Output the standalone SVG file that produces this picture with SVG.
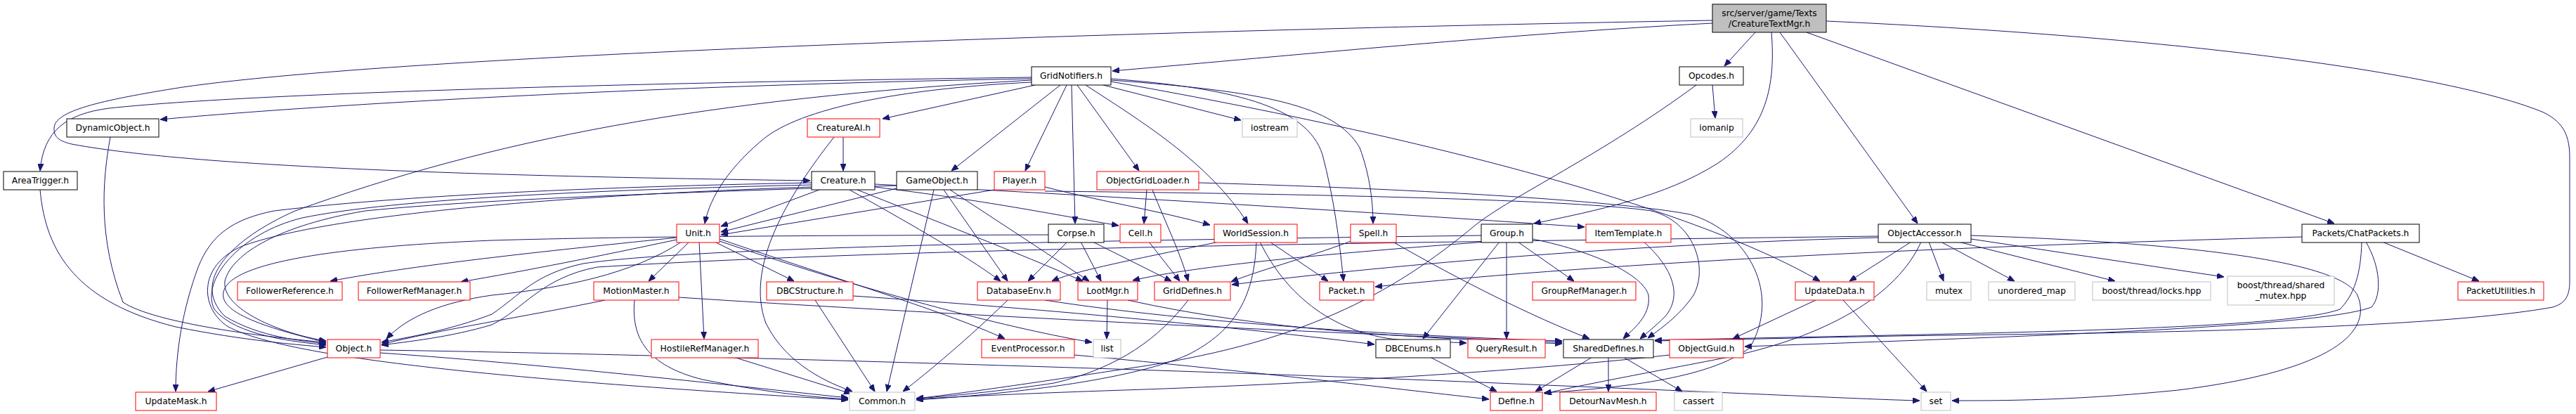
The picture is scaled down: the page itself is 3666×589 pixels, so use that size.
<svg xmlns="http://www.w3.org/2000/svg" width="3666" height="589" viewBox="0 0 3666 589">
<style>
.node rect{fill:#fff;stroke:#000;stroke-width:1}
.node.red rect{stroke:#ff0000}
.node.grey rect{stroke:#bfbfbf}
.node.root rect{fill:#bfbfbf;stroke:#000}
.node text{font-family:"DejaVu Sans","Liberation Sans",sans-serif;font-size:12.3px;fill:#000;text-anchor:middle}
#edges path{fill:none;stroke:#191970;stroke-width:1;marker-end:url(#arr)}
</style>
<defs>
<marker id="arr" markerWidth="10" markerHeight="8" refX="10" refY="4" orient="auto" markerUnits="userSpaceOnUse"><path d="M0,0 L10,4 L0,8 z" fill="#191970" stroke="#191970" stroke-width="1"/></marker>
</defs>
<rect width="3666" height="589" fill="#fff"/>
<g id="edges">
<path d="M2437,33 C2150,48 1850,78 1583,101"/>
<path d="M2437,29 C1700,42 600,75 260,124 C140,143 78,158 77,182 C76,196 86,201 102,205 C300,242 800,252 1153,257"/>
<path d="M2498,46 L2454,94"/>
<path d="M2521,46 C2527,120 2515,185 2445,232 C2370,280 2270,300 2183,318"/>
<path d="M2533,46 L2729,318"/>
<path d="M2571,46 L3322,318"/>
<path d="M2599,30 C3150,55 3500,110 3620,160 C3650,175 3657,195 3657,225 L3657,400 C3657,425 3648,432 3633,437 C3450,470 3000,474 2700,478 C2550,481 2420,484 2355,485"/>
<path d="M1468,110 C1100,115 400,128 155,154 C95,162 62,185 57,243"/>
<path d="M1468,112 C1000,120 500,145 228,170"/>
<path d="M1468,114 C1000,140 700,199 420,300 C330,340 270,400 320,450 C370,480 430,485 464,489"/>
<path d="M1473,121 L1256,169"/>
<path d="M1509,121 L1354,243"/>
<path d="M1518,121 L1459,243"/>
<path d="M1468,117 C1300,125 1150,150 1090,195 C1040,235 1010,280 1003,318"/>
<path d="M1525,121 L1530,318"/>
<path d="M1533,121 L1621,243"/>
<path d="M1545,121 C1620,170 1720,230 1776,318"/>
<path d="M1570,121 L1766,171"/>
<path d="M1581,112 C1750,125 1860,150 1882,220 C1898,280 1906,340 1912,400"/>
<path d="M1581,114 C1800,130 1900,150 1935,210 C1950,250 1954,290 1954,318"/>
<path d="M1581,116 C2000,190 2400,290 2590,400"/>
<path d="M2437,121 L2441,168"/>
<path d="M2414,121 C2280,220 2150,280 2100,320 C1980,420 1850,490 1600,525 C1450,548 1350,562 1304,567"/>
<path d="M1200,195 L1200,243"/>
<path d="M1187,195 C1120,280 1060,380 1090,460 C1120,520 1180,545 1213,557"/>
<path d="M1166,270 L1026,322"/>
<path d="M1155,260 C900,265 600,275 390,300 C330,312 300,335 282,380 C260,440 250,500 250,557"/>
<path d="M1155,263 C850,270 560,283 430,310 C340,332 285,400 305,440 C335,478 420,486 464,491"/>
<path d="M1155,266 C800,278 470,305 345,350 C280,378 285,440 325,465 C420,515 800,545 1207,569"/>
<path d="M1245,262 C1600,280 2000,305 2255,323"/>
<path d="M1245,266 C1400,285 1500,305 1592,321"/>
<path d="M1209,270 C1280,310 1370,360 1424,400"/>
<path d="M1220,270 C1320,310 1450,360 1541,400"/>
<path d="M1276,268 L1026,330"/>
<path d="M1329,270 L1262,557"/>
<path d="M1343,270 L1434,400"/>
<path d="M1352,270 L1550,400"/>
<path d="M1276,264 C1000,273 700,282 520,300 C400,320 330,360 320,400 C315,440 400,475 464,485"/>
<path d="M1415,270 L1026,334"/>
<path d="M1487,266 C1560,285 1650,300 1722,320"/>
<path d="M1487,272 C1900,276 2250,285 2350,300 C2410,315 2432,380 2410,420 C2390,450 2360,470 2345,481"/>
<path d="M1632,270 L1628,318"/>
<path d="M1640,270 C1660,320 1680,360 1691,400"/>
<path d="M1706,260 C2000,268 2300,285 2405,305 C2490,330 2535,420 2490,495 C2430,540 2300,552 2197,559"/>
<path d="M970,344 C900,390 800,410 700,420 C630,430 580,450 550,482"/>
<path d="M963,338 C800,355 600,375 470,400"/>
<path d="M963,341 C850,365 750,385 656,401"/>
<path d="M981,344 L923,400"/>
<path d="M995,344 L1002,482"/>
<path d="M1017,344 L1130,400"/>
<path d="M1024,340 C1200,400 1350,445 1430,482"/>
<path d="M1024,343 C1250,420 1450,470 1554,487"/>
<path d="M1492,334 C1200,335 900,336 700,342 C500,350 340,370 320,410 C305,440 360,462 464,487"/>
<path d="M1519,344 L1463,400"/>
<path d="M1538,344 L1567,400"/>
<path d="M1555,344 L1667,400"/>
<path d="M1635,344 L1679,400"/>
<path d="M1735,344 C1620,368 1530,385 1497,400"/>
<path d="M1807,344 L1890,400"/>
<path d="M1788,344 C1785,420 1760,470 1690,505 C1600,545 1400,563 1304,569"/>
<path d="M1793,344 C1830,420 1900,478 2000,484 C2040,486 2065,487 2087,488"/>
<path d="M1923,343 C1850,370 1790,385 1752,401"/>
<path d="M1982,344 C2080,400 2180,450 2262,482"/>
<path d="M2160,344 L2240,400"/>
<path d="M2134,344 L2025,482"/>
<path d="M2144,344 L2144,482"/>
<path d="M2181,340 C2280,360 2340,395 2346,420 C2350,450 2322,470 2310,482"/>
<path d="M2115,344 C1900,360 1700,378 1612,399"/>
<path d="M2108,335 C1600,342 1000,350 830,375 C760,390 740,420 700,447 C640,470 580,480 543,487"/>
<path d="M2339,344 C2380,380 2395,420 2370,450 C2355,465 2342,475 2334,482"/>
<path d="M2720,344 L2632,400"/>
<path d="M2745,344 L2766,400"/>
<path d="M2762,344 L2867,400"/>
<path d="M2787,344 L3010,400"/>
<path d="M2805,340 L3165,394"/>
<path d="M2805,335 C3100,345 3330,370 3355,420 C3380,480 3300,530 3100,555 C2950,570 2850,570 2778,570"/>
<path d="M2734,344 C2700,420 2600,480 2450,510 C2320,535 2240,550 2198,560"/>
<path d="M2673,338 C2300,348 1950,380 1753,405"/>
<path d="M2673,336 C2000,345 1300,352 850,380 C770,395 745,440 700,462 C640,480 580,486 543,491"/>
<path d="M3390,344 L3528,400"/>
<path d="M3276,337 C2800,350 2300,372 1957,408"/>
<path d="M3361,344 C3360,390 3350,420 3330,440 C3250,470 2800,474 2355,484"/>
<path d="M3367,344 C3388,380 3390,420 3375,437 C3300,465 2900,478 2483,493"/>
<path d="M157,195 C145,260 140,340 175,430 C220,460 380,480 464,487"/>
<path d="M57,270 C65,360 110,430 250,465 C350,485 420,490 464,494"/>
<path d="M861,427 C750,450 620,470 543,490"/>
<path d="M903,427 C898,480 920,520 1000,540 C1100,560 1160,565 1207,568"/>
<path d="M966,423 C1300,445 1800,470 2223,487"/>
<path d="M1160,427 L1245,557"/>
<path d="M1214,421 C1500,440 1800,470 1956,490"/>
<path d="M1044,508 L1211,560"/>
<path d="M466,508 L296,557"/>
<path d="M541,502 C800,520 1100,555 1207,566"/>
<path d="M541,498 C1000,505 1800,530 2200,548 C2500,560 2650,568 2732,570"/>
<path d="M1434,427 C1380,480 1320,530 1285,557"/>
<path d="M1487,427 C1700,460 2000,478 2223,485"/>
<path d="M1576,427 L1575,482"/>
<path d="M1605,427 C1800,470 2000,480 2223,489"/>
<path d="M1691,427 C1650,480 1594,523 1500,545 C1400,560 1330,565 1304,567"/>
<path d="M1529,505 C1800,530 2000,555 2119,568"/>
<path d="M2035,508 L2130,557"/>
<path d="M2266,508 L2185,557"/>
<path d="M2289,508 L2289,557"/>
<path d="M2310,508 L2394,557"/>
<path d="M2376,505 C2200,525 1900,545 1600,555 C1450,560 1350,565 1304,568"/>
<path d="M2584,427 L2466,482"/>
<path d="M2623,427 L2742,557"/>
</g>
<g id="n_root" class="node root"><rect x="2437" y="6" width="162" height="40"/><text x="2518" y="23">src/server/game/Texts</text><text x="2518" y="38">/CreatureTextMgr.h</text></g>
<g id="n_gridnotifiers" class="node"><rect x="1468" y="95" width="113" height="26"/><text x="1524.5" y="112.4">GridNotifiers.h</text></g>
<g id="n_opcodes" class="node"><rect x="2390" y="95" width="91" height="26"/><text x="2435.5" y="112.4">Opcodes.h</text></g>
<g id="n_dynamicobject" class="node"><rect x="95" y="169" width="131" height="26"/><text x="160.5" y="186.4">DynamicObject.h</text></g>
<g id="n_creatureai" class="node red"><rect x="1149" y="169" width="103" height="26"/><text x="1200.5" y="186.4">CreatureAI.h</text></g>
<g id="n_iostream" class="node grey"><rect x="1768" y="169" width="78" height="26"/><text x="1807" y="186.4">iostream</text></g>
<g id="n_iomanip" class="node grey"><rect x="2406" y="169" width="74" height="26"/><text x="2443" y="186.4">iomanip</text></g>
<g id="n_areatrigger" class="node"><rect x="5" y="244" width="105" height="26"/><text x="57.5" y="261.4">AreaTrigger.h</text></g>
<g id="n_creature" class="node"><rect x="1155" y="244" width="90" height="26"/><text x="1200" y="261.4">Creature.h</text></g>
<g id="n_gameobject" class="node"><rect x="1276" y="244" width="115" height="26"/><text x="1333.5" y="261.4">GameObject.h</text></g>
<g id="n_player" class="node red"><rect x="1415" y="244" width="72" height="26"/><text x="1451" y="261.4">Player.h</text></g>
<g id="n_objectgridloader" class="node red"><rect x="1561" y="244" width="145" height="26"/><text x="1633.5" y="261.4">ObjectGridLoader.h</text></g>
<g id="n_unit" class="node red"><rect x="963" y="319" width="61" height="26"/><text x="993.5" y="336.4">Unit.h</text></g>
<g id="n_corpse" class="node"><rect x="1492" y="319" width="79" height="26"/><text x="1531.5" y="336.4">Corpse.h</text></g>
<g id="n_cell" class="node red"><rect x="1594" y="319" width="58" height="26"/><text x="1623" y="336.4">Cell.h</text></g>
<g id="n_worldsession" class="node red"><rect x="1728" y="319" width="118" height="26"/><text x="1787" y="336.4">WorldSession.h</text></g>
<g id="n_spell" class="node red"><rect x="1922" y="319" width="65" height="26"/><text x="1954.5" y="336.4">Spell.h</text></g>
<g id="n_group" class="node"><rect x="2108" y="319" width="73" height="26"/><text x="2144.5" y="336.4">Group.h</text></g>
<g id="n_itemtemplate" class="node red"><rect x="2257" y="319" width="121" height="26"/><text x="2317.5" y="336.4">ItemTemplate.h</text></g>
<g id="n_objectaccessor" class="node"><rect x="2673" y="319" width="132" height="26"/><text x="2739" y="336.4">ObjectAccessor.h</text></g>
<g id="n_chatpackets" class="node"><rect x="3276" y="319" width="167" height="26"/><text x="3359.5" y="336.4">Packets/ChatPackets.h</text></g>
<g id="n_followerreference" class="node red"><rect x="338" y="401" width="149" height="26"/><text x="412.5" y="418.4">FollowerReference.h</text></g>
<g id="n_followerrefmanager" class="node red"><rect x="510" y="401" width="159" height="26"/><text x="589.5" y="418.4">FollowerRefManager.h</text></g>
<g id="n_motionmaster" class="node red"><rect x="845" y="401" width="121" height="26"/><text x="905.5" y="418.4">MotionMaster.h</text></g>
<g id="n_dbcstructure" class="node red"><rect x="1091" y="401" width="123" height="26"/><text x="1152.5" y="418.4">DBCStructure.h</text></g>
<g id="n_databaseenv" class="node red"><rect x="1391" y="401" width="118" height="26"/><text x="1450" y="418.4">DatabaseEnv.h</text></g>
<g id="n_lootmgr" class="node red"><rect x="1534" y="401" width="85" height="26"/><text x="1576.5" y="418.4">LootMgr.h</text></g>
<g id="n_griddefines" class="node red"><rect x="1643" y="401" width="108" height="26"/><text x="1697" y="418.4">GridDefines.h</text></g>
<g id="n_packet" class="node red"><rect x="1878" y="401" width="77" height="26"/><text x="1916.5" y="418.4">Packet.h</text></g>
<g id="n_grouprefmanager" class="node red"><rect x="2181" y="401" width="147" height="26"/><text x="2254.5" y="418.4">GroupRefManager.h</text></g>
<g id="n_updatedata" class="node red"><rect x="2555" y="401" width="112" height="26"/><text x="2611" y="418.4">UpdateData.h</text></g>
<g id="n_mutex" class="node grey"><rect x="2742" y="401" width="63" height="26"/><text x="2773.5" y="418.4">mutex</text></g>
<g id="n_unordered_map" class="node grey"><rect x="2830" y="401" width="123" height="26"/><text x="2891.5" y="418.4">unordered_map</text></g>
<g id="n_locks" class="node grey"><rect x="2978" y="401" width="168" height="26"/><text x="3062" y="418.4">boost/thread/locks.hpp</text></g>
<g id="n_shared_mutex" class="node grey"><rect x="3170" y="393" width="152" height="41"/><text x="3246" y="410">boost/thread/shared</text><text x="3246" y="425">_mutex.hpp</text></g>
<g id="n_packetutilities" class="node red"><rect x="3498" y="401" width="122" height="26"/><text x="3559" y="418.4">PacketUtilities.h</text></g>
<g id="n_object" class="node red"><rect x="466" y="483" width="75" height="26"/><text x="503.5" y="500.4">Object.h</text></g>
<g id="n_hostilerefmanager" class="node red"><rect x="927" y="483" width="152" height="26"/><text x="1003" y="500.4">HostileRefManager.h</text></g>
<g id="n_eventprocessor" class="node red"><rect x="1397" y="483" width="132" height="26"/><text x="1463" y="500.4">EventProcessor.h</text></g>
<g id="n_list" class="node grey"><rect x="1556" y="483" width="39" height="26"/><text x="1575.5" y="500.4">list</text></g>
<g id="n_dbcenums" class="node"><rect x="1958" y="483" width="106" height="26"/><text x="2011" y="500.4">DBCEnums.h</text></g>
<g id="n_queryresult" class="node red"><rect x="2089" y="483" width="110" height="26"/><text x="2144" y="500.4">QueryResult.h</text></g>
<g id="n_shareddefines" class="node"><rect x="2225" y="483" width="128" height="26"/><text x="2289" y="500.4">SharedDefines.h</text></g>
<g id="n_objectguid" class="node red"><rect x="2376" y="483" width="105" height="26"/><text x="2428.5" y="500.4">ObjectGuid.h</text></g>
<g id="n_updatemask" class="node red"><rect x="193" y="558" width="115" height="26"/><text x="250.5" y="575.4">UpdateMask.h</text></g>
<g id="n_common" class="node grey"><rect x="1209" y="558" width="93" height="26"/><text x="1255.5" y="575.4">Common.h</text></g>
<g id="n_define" class="node red"><rect x="2121" y="558" width="74" height="26"/><text x="2158" y="575.4">Define.h</text></g>
<g id="n_detournavmesh" class="node red"><rect x="2220" y="558" width="137" height="26"/><text x="2288.5" y="575.4">DetourNavMesh.h</text></g>
<g id="n_cassert" class="node grey"><rect x="2383" y="558" width="68" height="26"/><text x="2417" y="575.4">cassert</text></g>
<g id="n_set" class="node grey"><rect x="2734" y="558" width="42" height="26"/><text x="2755" y="575.4">set</text></g>
</svg>
